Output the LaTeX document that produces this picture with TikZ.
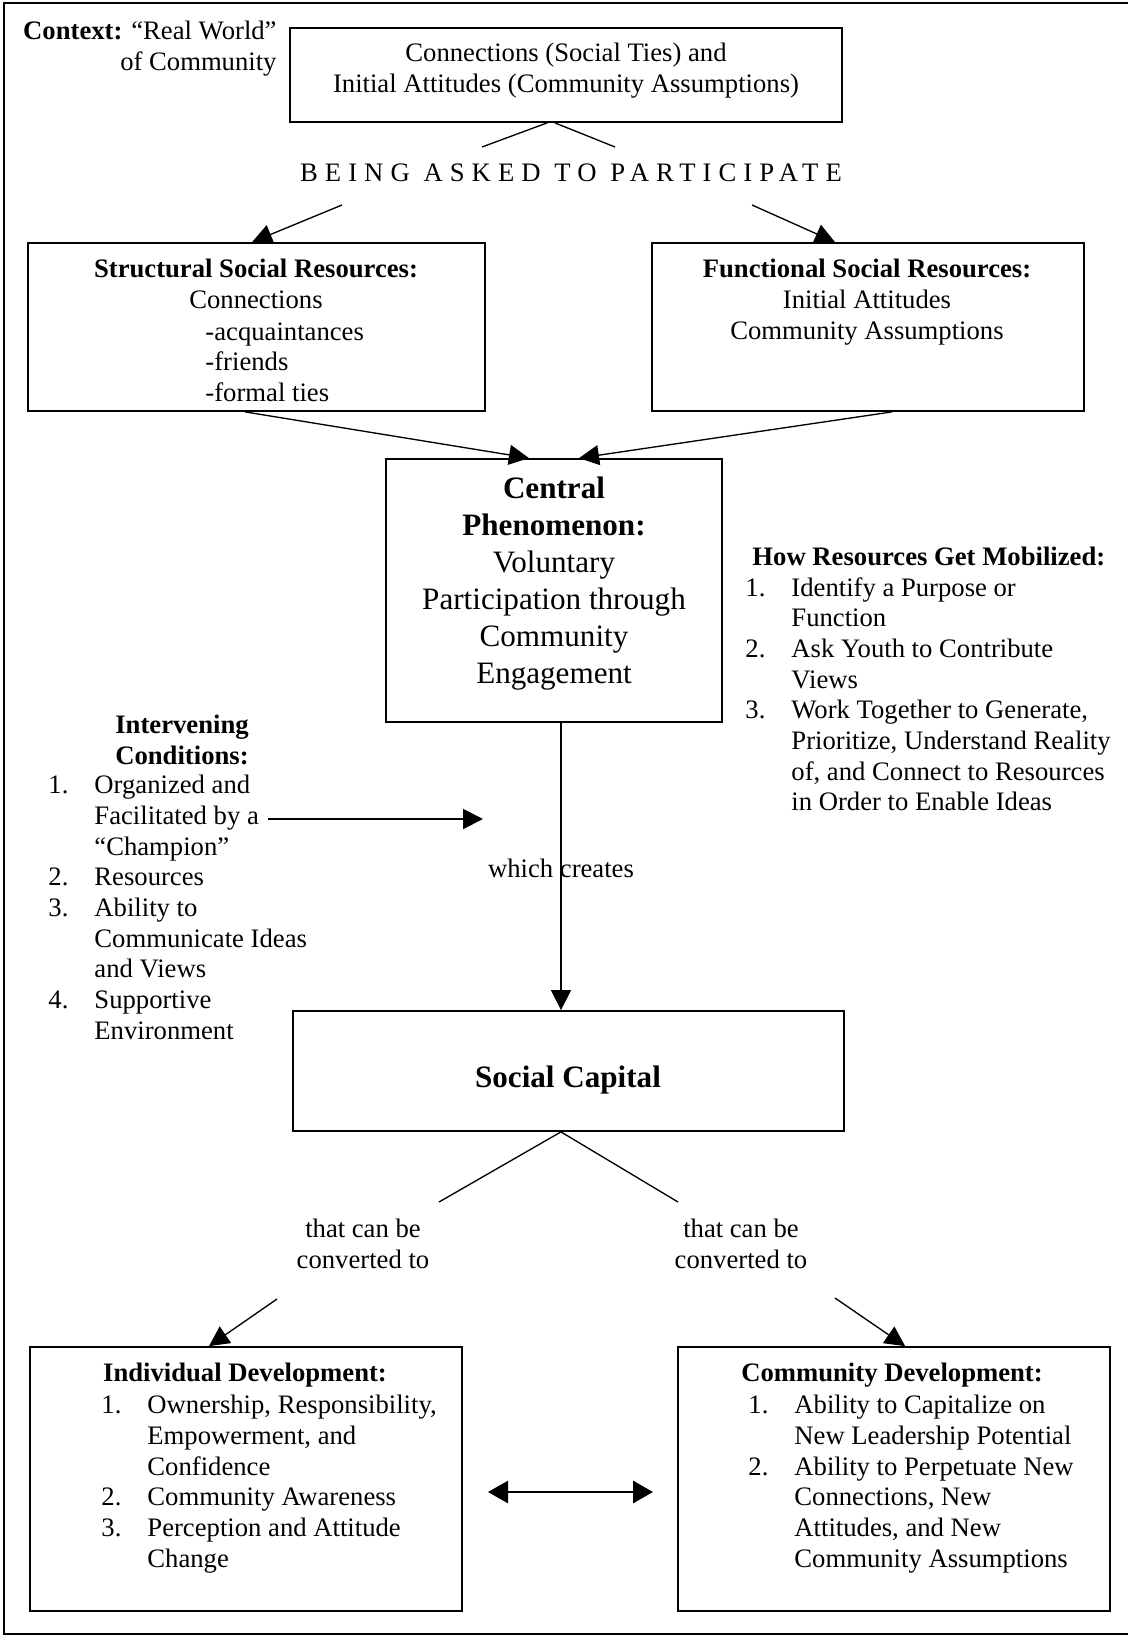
\documentclass[tikz,border=0pt]{standalone}
\usepackage{fontspec}
\setmainfont{Liberation Serif}
\usetikzlibrary{arrows.meta,fit,positioning}

\newcommand{\listno}[1]{\makebox[20.7pt][l]{#1}}
\newcommand{\listgap}{\hspace*{20.7pt}}

\begin{document}
\begin{tikzpicture}[
  x=0.45pt, y=-0.45pt,
  every node/.style={inner sep=0pt, font=\fontsize{12}{13.8}\selectfont},
  box/.style={rectangle, draw, line width=0.8pt, inner sep=0pt},
  line/.style={line width=0.6pt},
  arr/.style={line width=0.6pt, -{Triangle[length=9pt, width=9pt]}},
  twoway/.style={line width=0.9pt, {Triangle[length=9pt, width=10pt]}-{Triangle[length=9pt, width=10pt]}},
  big/.style={font=\fontsize{14}{16.65}\selectfont},
  spaced/.style={font=\fontsize{12}{13.8}\selectfont\addfontfeatures{LetterSpace=26.5}}
]
  \useasboundingbox (0,0) rectangle (1128,1637);
  \draw[line width=0.7pt] (1128,3) -- (4,3) -- (4,1634) -- (1128,1634);

  % boxes
  \node[box, fit={(290,28) (842,122)}] (ties) {};
  \node[box, fit={(28,243) (485,411)}] (struct) {};
  \node[box, fit={(652,243) (1084,411)}] (func) {};
  \node[box, fit={(386,459) (722,722)}] (central) {};
  \node[box, fit={(293,1011) (844,1131)}] (capital) {};
  \node[box, fit={(30,1347) (462,1611)}] (indiv) {};
  \node[box, fit={(678,1347) (1110,1611)}] (comm) {};

  % texts
  \node[anchor=north east, align=right] (context) at (277,21) {\textbf{Context:} “Real World”\\of Community};
  \node[anchor=north, align=center] (tiestxt) at (566,43) {Connections (Social Ties) and\\Initial Attitudes (Community Assumptions)};
  \node[spaced] (asked) at (571,173) {BEING ASKED TO PARTICIPATE};

  \node[anchor=north, align=center] (structtxt) at (256,259) {\textbf{Structural Social Resources:}\\Connections};
  \node[anchor=north west, align=left] (structlist) at (205,322) {-acquaintances\\-friends\\-formal ties};
  \node[anchor=north, align=center] (functxt) at (867,259) {\textbf{Functional Social Resources:}\\Initial Attitudes\\Community Assumptions};

  \node[big, anchor=north, align=center] (centraltxt) at (554,476) {\textbf{Central}\\\textbf{Phenomenon:}\\Voluntary\\Participation through\\Community\\Engagement};

  \node[anchor=north west] (mobhead) at (752,547) {\textbf{How Resources Get Mobilized:}};
  \node[anchor=north west, align=left] (moblist) at (745,577) {\listno{1.}Identify a Purpose or\\\listgap Function\\\listno{2.}Ask Youth to Contribute\\\listgap Views\\\listno{3.}Work Together to Generate,\\\listgap Prioritize, Understand Reality\\\listgap of, and Connect to Resources\\\listgap in Order to Enable Ideas};

  \node[anchor=north, align=center] (condhead) at (182,715) {\textbf{Intervening}\\\textbf{Conditions:}};
  \node[anchor=north west, align=left] (condlist) at (48,775) {\listno{1.}Organized and\\\listgap Facilitated by a\\\listgap “Champion”\\\listno{2.}Resources\\\listno{3.}Ability to\\\listgap Communicate Ideas\\\listgap and Views\\\listno{4.}Supportive\\\listgap Environment};

  \node (creates) at (561,868) {which creates};
  \node[big] (captxt) at (568,1080) {\textbf{Social Capital}};
  \node[anchor=north, align=center] (convleft) at (363,1219) {that can be\\converted to};
  \node[anchor=north, align=center] (convright) at (741,1219) {that can be\\converted to};

  \node[anchor=north] (indivhead) at (245,1363) {\textbf{Individual Development:}};
  \node[anchor=north west, align=left] (indivlist) at (101,1395) {\listno{1.}Ownership, Responsibility,\\\listgap Empowerment, and\\\listgap Confidence\\\listno{2.}Community Awareness\\\listno{3.}Perception and Attitude\\\listgap Change};
  \node[anchor=north] (commhead) at (892,1363) {\textbf{Community Development:}};
  \node[anchor=north west, align=left] (commlist) at (748,1395) {\listno{1.}Ability to Capitalize on\\\listgap New Leadership Potential\\\listno{2.}Ability to Perpetuate New\\\listgap Connections, New\\\listgap Attitudes, and New\\\listgap Community Assumptions};

  % free ends
  \coordinate (askl) at (482,147);
  \coordinate (askr) at (615,147);
  \coordinate (askdl) at (342,205);
  \coordinate (askdr) at (752,205);
  \coordinate (champ) at (268,819);
  \coordinate (champend) at (483,819);
  \coordinate (splitl) at (439,1202);
  \coordinate (splitr) at (678,1202);
  \coordinate (convdl) at (277,1299);
  \coordinate (convdr) at (835,1298);
  \coordinate (swapl) at (488,1492);
  \coordinate (swapr) at (653,1492);

  % connectors
  \draw[line] ([xshift=-8.5pt]ties.south) -- (askl);
  \draw[line] ([xshift=-5pt]ties.south) -- (askr);
  \draw[arr] (askdl) -- ([xshift=-2pt]struct.north);
  \draw[arr] (askdr) -- ([xshift=-14.85pt]func.north);
  \draw[arr] ([xshift=-5.2pt]struct.south) -- ([xshift=-11.25pt]central.north);
  \draw[arr] ([xshift=10.8pt]func.south) -- ([xshift=11.25pt]central.north);
  \draw[arr, line width=0.9pt] (champ) -- (champend);
  \draw[arr] (central.south -| creates) -- (capital.north -| creates);
  \draw[line] ([xshift=-3.4pt]capital.south) -- (splitl);
  \draw[line] ([xshift=-3.4pt]capital.south) -- (splitr);
  \draw[arr] (convdl) -- ([xshift=-16.65pt]indiv.north);
  \draw[arr] (convdr) -- ([xshift=5pt]comm.north);
  \draw[twoway] (swapl) -- (swapr);
\end{tikzpicture}
\end{document}
